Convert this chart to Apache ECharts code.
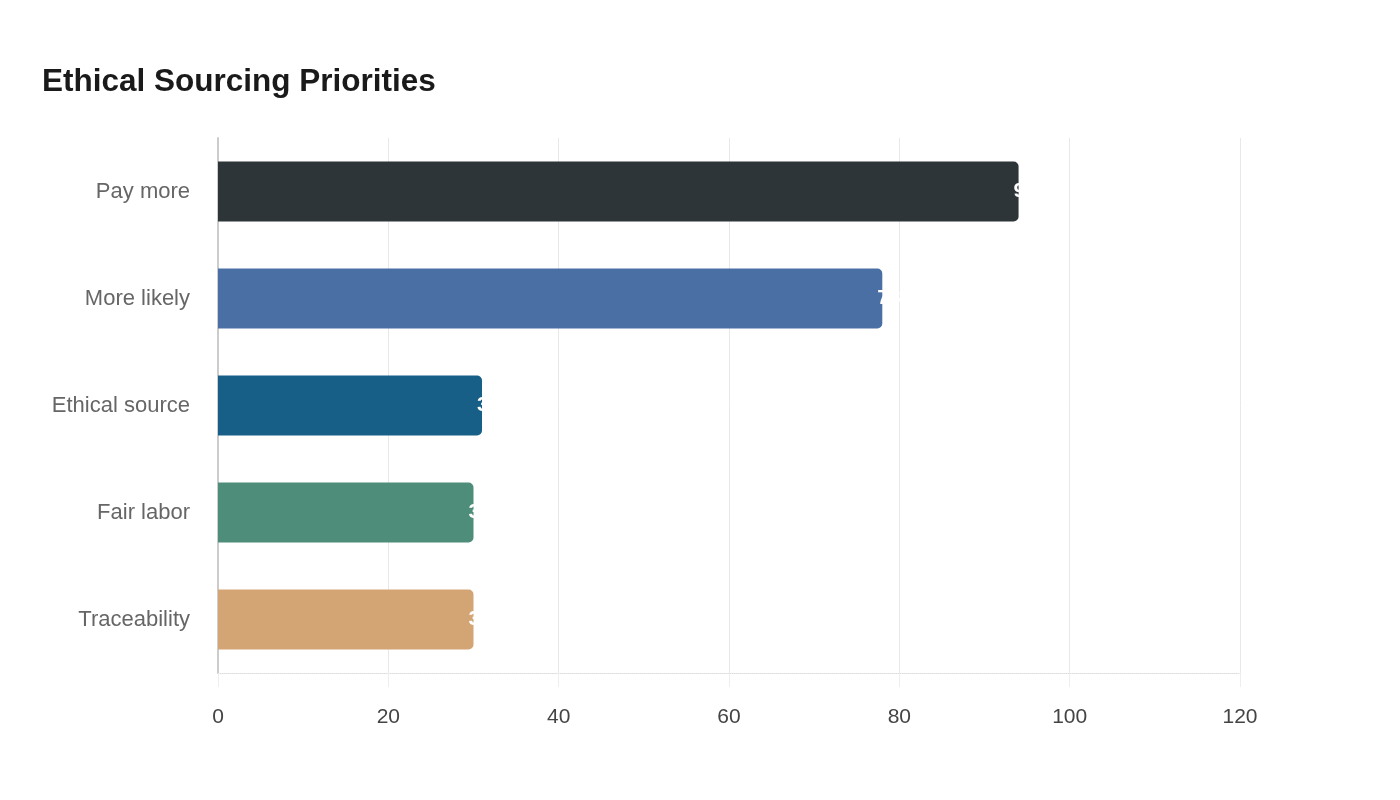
<!DOCTYPE html>
<html>
<head>
<meta charset="utf-8">
<script src="https://cdn.jsdelivr.net/npm/echarts@6/dist/echarts.min.js"></script>
<style>
  html, body { margin: 0; padding: 0; background: #fff; }
  #chart { width: 1400px; height: 800px; }
</style>
</head>
<body>
<div id="chart"></div>
<script>
// categories top to bottom
const categories = ['Pay more', 'More likely', 'Ethical source', 'Fair labor', 'Traceability']
const values = [94, 78, 31, 30, 30]
const barColors = ['#2e3538', '#4a6fa5', '#175f87', '#4e8d7a', '#d4a574']

const chart = echarts.init(document.getElementById('chart'))

chart.setOption({
  backgroundColor: '#fff',
  animation: false,
  title: {
    text: 'Ethical Sourcing Priorities',
    left: 37,
    top: 61,
    textStyle: {
      color: '#1a1a1a',
      fontSize: 31.5,
      fontWeight: 'bold',
      fontFamily: 'Liberation Sans'
    }
  },
  grid: {
    left: 218,
    right: 160,
    top: 138,
    bottom: 127
  },
  xAxis: {
    type: 'value',
    min: 0,
    max: 120,
    interval: 20,
    axisLine: { show: true, lineStyle: { color: '#ddd', type: 'dotted' } },
    axisTick: { show: true, length: 14, lineStyle: { color: '#eee' } },
    splitLine: { show: true, lineStyle: { color: '#e8e8e8' } },
    axisLabel: { color: '#444', fontSize: 21, margin: 34, fontFamily: 'Liberation Sans' }
  },
  yAxis: {
    type: 'category',
    data: categories,
    inverse: true,
    axisLine: { show: true, lineStyle: { color: '#ccc', width: 2 } },
    axisTick: { show: false },
    axisLabel: { color: '#666', fontSize: 22, margin: 28, fontFamily: 'Liberation Sans' }
  },
  series: [{
    type: 'bar',
    data: values.map((v, i) => ({ value: v, itemStyle: { color: barColors[i] } })),
    barWidth: 60,
    itemStyle: { borderRadius: [0, 5, 5, 0] },
    label: {
      show: true,
      position: 'right',
      distance: -5,
      color: '#fff',
      fontSize: 21,
      fontWeight: 'bold',
      fontFamily: 'Liberation Sans'
    }
  }]
})
</script>
</body>
</html>
